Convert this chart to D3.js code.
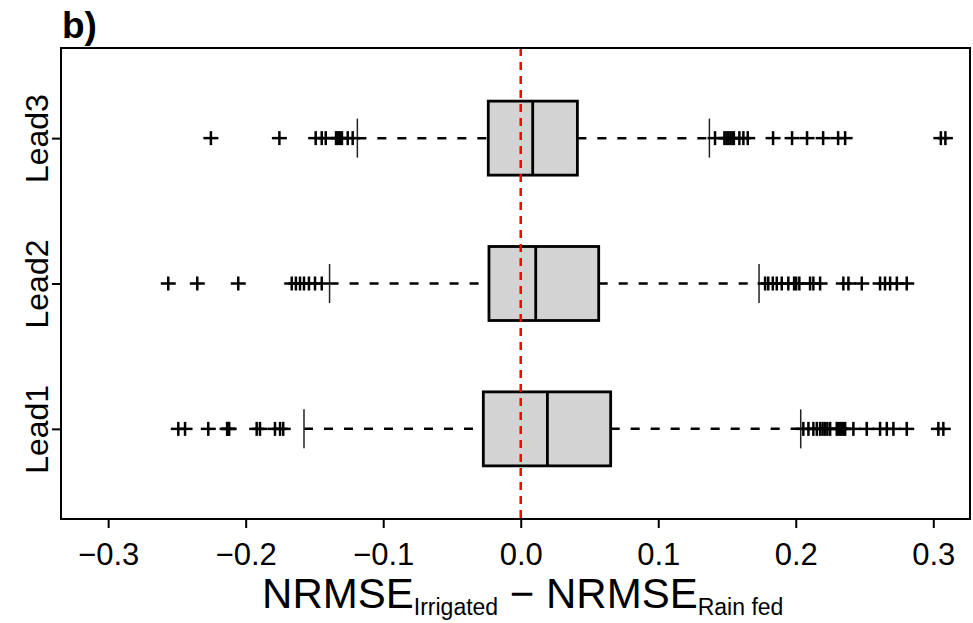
<!DOCTYPE html>
<html>
<head>
<meta charset="utf-8">
<script src="https://cdn.jsdelivr.net/npm/d3@7"></script>
<style>
  body { margin: 0; background: #fff; }
  text { font-family: "Liberation Sans", Arial, sans-serif; fill: #000; }
</style>
</head>
<body>
<svg id="chart" width="973" height="623"></svg>
<script>
// box statistics
var leads = ["Lead1", "Lead2", "Lead3"];
var q1 = [-0.0272, -0.0231, -0.0236];
var medians = [0.0194, 0.0109, 0.0087];
var q3 = [0.0654, 0.0567, 0.0412];
var whisker_low = [-0.1576, -0.139, -0.1188];
var whisker_high = [0.2036, 0.1733, 0.1372];

var outliers_lead1 = [-0.249, -0.2441, -0.2272, -0.2135, -0.2127, -0.212, -0.192, -0.1896, -0.1787, -0.175, -0.1727,
    0.2055, 0.2092, 0.2128, 0.2153, 0.2177, 0.2195, 0.2212, 0.223, 0.225, 0.2298, 0.2315, 0.233, 0.2345, 0.2359,
    0.2419, 0.2516, 0.2613, 0.2662, 0.271, 0.2807, 0.3037, 0.3073];
var outliers_lead2 = [-0.2563, -0.2352, -0.2054, -0.1665, -0.1635, -0.1605, -0.1576, -0.154, -0.1496, -0.1447,
    0.1777, 0.18, 0.1833, 0.1862, 0.1898, 0.1946, 0.1988, 0.2003, 0.2026, 0.2104, 0.2128, 0.2177,
    0.2346, 0.2383, 0.248, 0.2613, 0.2649, 0.2686, 0.2735, 0.2807];
var outliers_lead3 = [-0.2253, -0.1755, -0.1491, -0.1447, -0.1418, -0.1343, -0.1329, -0.1314, -0.13, -0.1258, -0.1222,
    0.1413, 0.1481, 0.1496, 0.151, 0.1525, 0.154, 0.155, 0.159, 0.1619, 0.1651,
    0.1835, 0.1973, 0.2082, 0.2199, 0.2308, 0.2359, 0.3055, 0.3088];
var outliers = [outliers_lead1, outliers_lead2, outliers_lead3];

var x_ticks = [-0.3, -0.2, -0.1, 0.0, 0.1, 0.2, 0.3];

var margin = { top: 48, right: 3, bottom: 104, left: 61 };
var width = 973 - margin.left - margin.right;
var height = 623 - margin.top - margin.bottom;

var x = d3.scaleLinear().domain([-0.3343, 0.3267]).range([0, width]);
var y = d3.scaleLinear().domain([0.38, 3.62]).range([height, 0]);
var box_half = 37;
var cap_half = 19.5;

var svg = d3.select("#chart")
    .append("g")
    .attr("transform", "translate(" + margin.left + "," + margin.top + ")");

var rows = leads.map(function (name, i) {
    return { name: name, pos: i + 1, q1: q1[i], med: medians[i], q3: q3[i],
        lo: whisker_low[i], hi: whisker_high[i], out: outliers[i] };
});

var g_rows = svg.selectAll(".row").data(rows).enter().append("g").attr("class", "row");

// whiskers (dashed)
g_rows.append("line")
    .attr("x1", function (d) { return x(d.lo); })
    .attr("x2", function (d) { return x(d.q1); })
    .attr("y1", function (d) { return y(d.pos); })
    .attr("y2", function (d) { return y(d.pos); })
    .attr("stroke", "#000").attr("stroke-width", 2.5).attr("stroke-dasharray", "9,11");
g_rows.append("line")
    .attr("x1", function (d) { return x(d.q3); })
    .attr("x2", function (d) { return x(d.hi); })
    .attr("y1", function (d) { return y(d.pos); })
    .attr("y2", function (d) { return y(d.pos); })
    .attr("stroke", "#000").attr("stroke-width", 2.5).attr("stroke-dasharray", "9,11");

// whisker caps
["lo", "hi"].forEach(function (k) {
    g_rows.append("line")
        .attr("x1", function (d) { return x(d[k]); })
        .attr("x2", function (d) { return x(d[k]); })
        .attr("y1", function (d) { return y(d.pos) - cap_half; })
        .attr("y2", function (d) { return y(d.pos) + cap_half; })
        .attr("stroke", "#222").attr("stroke-width", 1.5);
});

// outliers as plus signs
g_rows.each(function (d) {
    var g = d3.select(this);
    var pts = g.selectAll(".pt").data(d.out).enter().append("g").attr("class", "pt")
        .attr("transform", function (v) { return "translate(" + x(v) + "," + y(d.pos) + ")"; });
    pts.append("line").attr("x1", -7.5).attr("x2", 7.5).attr("stroke", "#000").attr("stroke-width", 2.5);
    pts.append("line").attr("y1", -7).attr("y2", 7).attr("stroke", "#000").attr("stroke-width", 2.5);
});

// boxes
g_rows.append("rect")
    .attr("x", function (d) { return x(d.q1); })
    .attr("width", function (d) { return x(d.q3) - x(d.q1); })
    .attr("y", function (d) { return y(d.pos) - box_half; })
    .attr("height", box_half * 2)
    .attr("fill", "#d3d3d3").attr("stroke", "#000").attr("stroke-width", 2.8);

g_rows.append("line")
    .attr("x1", function (d) { return x(d.med); })
    .attr("x2", function (d) { return x(d.med); })
    .attr("y1", function (d) { return y(d.pos) - box_half; })
    .attr("y2", function (d) { return y(d.pos) + box_half; })
    .attr("stroke", "#000").attr("stroke-width", 2.8);

// zero reference line
svg.append("line")
    .attr("x1", x(0)).attr("x2", x(0))
    .attr("y1", 0).attr("y2", height)
    .attr("stroke", "#ff0000").attr("stroke-width", 2.5).attr("stroke-dasharray", "8,6");

// frame
svg.append("rect")
    .attr("x", 0).attr("y", 0).attr("width", width).attr("height", height)
    .attr("fill", "none").attr("stroke", "#000").attr("stroke-width", 2);

// x axis
var x_axis = d3.axisBottom(x)
    .tickValues(x_ticks)
    .tickSize(9)
    .tickPadding(15)
    .tickFormat(function (d) { return d3.format(".1f")(d).replace("-", "\u2212"); });

var gx = svg.append("g")
    .attr("transform", "translate(0," + height + ")")
    .call(x_axis);
gx.select(".domain").remove();
gx.selectAll(".tick line").attr("stroke", "#000").attr("stroke-width", 2);
gx.selectAll(".tick text")
    .style("font-size", "31px").style("font-family", "Liberation Sans, Arial, sans-serif")
    .attr("fill", "#000");

// y axis
var y_axis = d3.axisLeft(y)
    .tickValues([1, 2, 3])
    .tickSize(9)
    .tickFormat(function (d) { return leads[d - 1]; });

var gy = svg.append("g").call(y_axis);
gy.select(".domain").remove();
gy.selectAll(".tick line").attr("stroke", "#000").attr("stroke-width", 2);
gy.selectAll(".tick text")
    .style("font-size", "32px").style("font-family", "Liberation Sans, Arial, sans-serif")
    .attr("fill", "#000")
    .attr("transform", "rotate(-90)")
    .attr("x", 0).attr("y", -13)
    .attr("dy", "0")
    .attr("text-anchor", "middle");

// x title with subscripts
var title = svg.append("text")
    .attr("x", x(0) + 2)
    .attr("y", 560)
    .attr("text-anchor", "middle")
    .style("font-size", "42px");
title.append("tspan").text("NRMSE");
title.append("tspan").style("font-size", "23px").attr("dy", 7).text("Irrigated");
title.append("tspan").attr("dy", -7).text(" \u2212 NRMSE");
title.append("tspan").style("font-size", "23px").attr("dy", 7).text("Rain fed");

// panel label
svg.append("text")
    .attr("x", 1).attr("y", -10)
    .style("font-size", "37px").attr("font-weight", "bold")
    .text("b)");
</script>
</body>
</html>
